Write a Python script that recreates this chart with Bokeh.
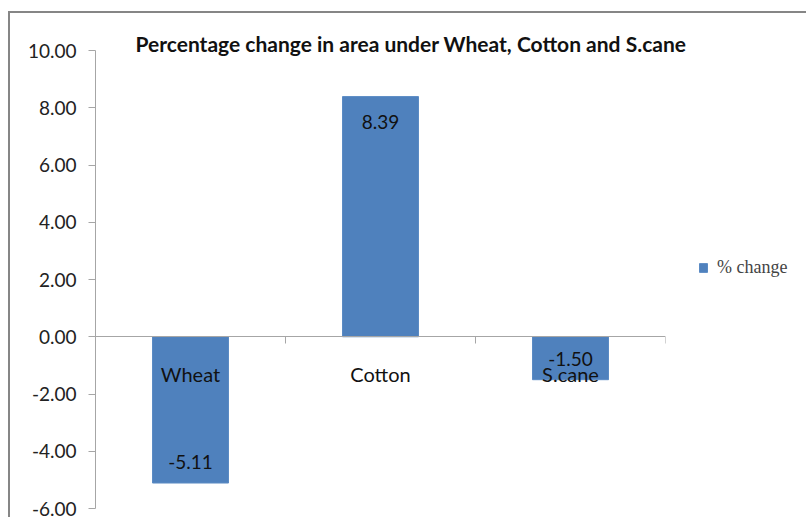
from bokeh.plotting import figure
from bokeh.models import (Range1d, FixedTicker, LinearAxis, PrintfTickFormatter,
                          ColumnDataSource, LabelSet, Legend, LegendItem, Title)
from bokeh.core.properties import value
from bokeh.embed import file_html
from bokeh.resources import INLINE

# ---- data ----
categories = ["Wheat", "Cotton", "S.cane"]
pct_change = [-5.11, 8.39, -1.50]
y_ticks = [-6, -4, -2, 0, 2, 4, 6, 8, 10]
title_text = "Percentage change in area under Wheat, Cotton and S.cane"
series_name = "% change"

BAR = "#4F81BD"
AXIS = "#a6a6a6"
BORDER = "#868686"
FONT = "Lato"

xs = [i + 0.5 for i in range(len(categories))]
offsets = [-25 if v > 0 else 21 for v in pct_change]
src = ColumnDataSource(dict(x=xs, v=pct_change, lab=["%.2f" % v for v in pct_change], off=offsets))

p = figure(frame_width=570, frame_height=458, output_backend="svg", toolbar_location=None,
           x_range=Range1d(0, len(categories)), y_range=Range1d(min(y_ticks), max(y_ticks)),
           x_axis_location=None, y_axis_location=None,
           min_border_left=95, min_border_top=50, min_border_bottom=9, min_border_right=141)
# chart-area border (left and top edges visible in the crop)
p.styles = {
    "background": (f"linear-gradient({BORDER},{BORDER}) 8px 11px / 2px calc(100% - 11px) no-repeat, "
                   f"linear-gradient({BORDER},{BORDER}) 8px 11px / calc(100% - 8px) 2px no-repeat, #ffffff"),
}
p.outline_line_color = None
p.xgrid.visible = False
p.ygrid.visible = False
p.background_fill_color = "white"
p.border_fill_alpha = 0

yax = LinearAxis(ticker=FixedTicker(ticks=y_ticks, minor_ticks=[]),
                 formatter=PrintfTickFormatter(format="%.2f"))
yax.axis_line_color = AXIS
yax.major_tick_line_color = AXIS
yax.major_tick_out = 7
yax.major_tick_in = 0
yax.major_label_standoff = 12
yax.major_label_text_font = FONT
yax.major_label_text_font_size = "19px"
yax.major_label_text_color = "#222222"
p.add_layout(yax, "left")

xax = LinearAxis(fixed_location=0,
                 ticker=FixedTicker(ticks=xs, minor_ticks=list(range(len(categories) + 1))),
                 major_label_overrides={x: c for x, c in zip(xs, categories)})
xax.axis_line_color = AXIS
xax.major_tick_line_color = None
xax.major_tick_out = 0
xax.major_tick_in = 0
xax.minor_tick_line_color = AXIS
xax.minor_tick_out = 7
xax.minor_tick_in = 0
xax.major_label_standoff = 18
xax.major_label_text_font = FONT
xax.major_label_text_font_size = "20px"
xax.major_label_text_color = "#111111"
p.add_layout(xax, "below")

bars = p.vbar(x="x", top="v", bottom=0, width=0.4, source=src,
              fill_color=BAR, line_color="#5b8bc4", line_width=1)

labels = LabelSet(x="x", y="v", text="lab", y_offset="off", source=src,
                  text_align="center", text_baseline="middle",
                  text_font=value(FONT), text_font_size=value("19px"), text_color="#111111")
p.add_layout(labels)

t = Title(text=title_text, align="left", offset=40, standoff=-10,
          text_font=FONT, text_font_size="21px", text_font_style="bold", text_color="#111111")
p.add_layout(t, "above")

legend = Legend(items=[LegendItem(label=series_name, renderers=[bars])],
                location=(33, 230), glyph_width=10, glyph_height=11, padding=0, margin=0,
                label_standoff=9, border_line_color=None, background_fill_alpha=0,
                label_text_font="Liberation Serif", label_text_font_size="18px")
p.add_layout(legend, "right")

open("out.html", "w").write(file_html(p, INLINE))
